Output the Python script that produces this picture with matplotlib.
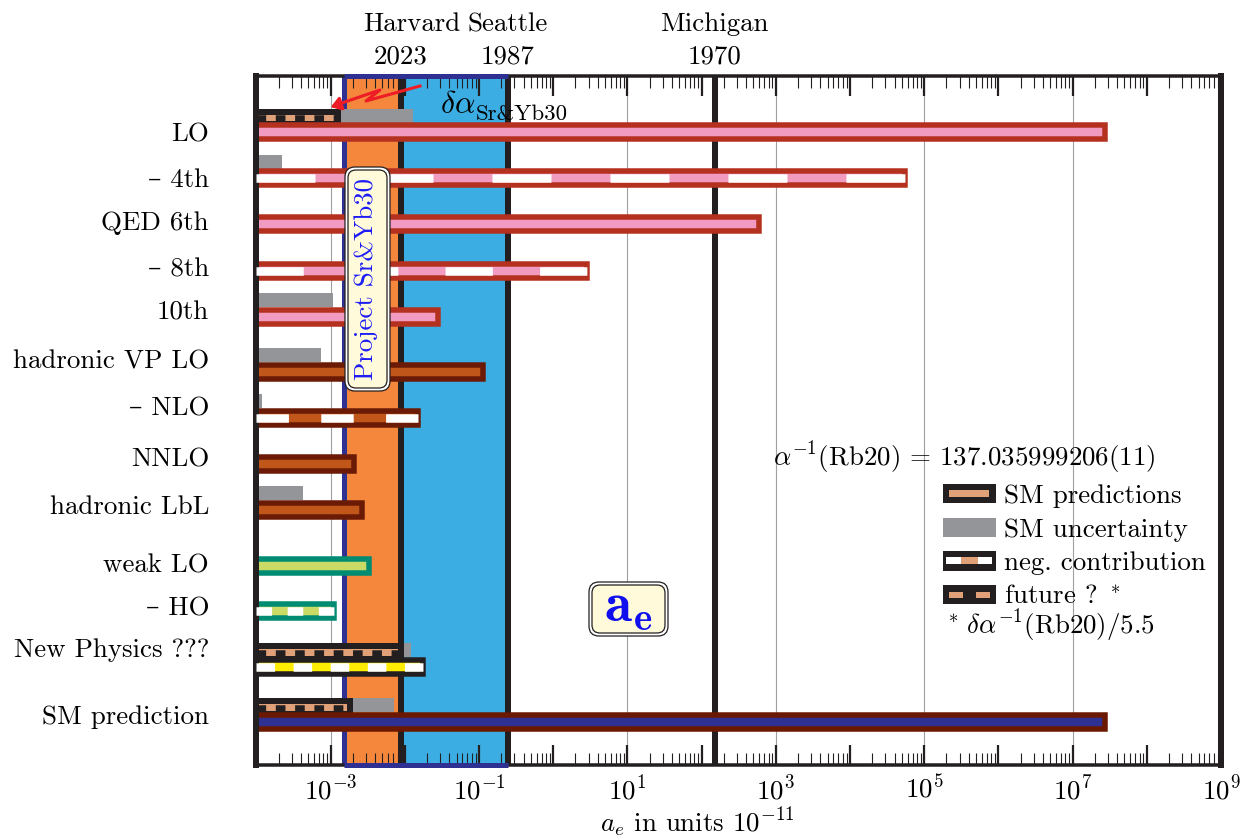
import numpy as np
import matplotlib
matplotlib.use('Agg')
import matplotlib.pyplot as plt
from matplotlib.patches import Rectangle, FancyBboxPatch
from matplotlib.legend_handler import HandlerBase
from matplotlib.ticker import LogLocator, FuncFormatter, NullFormatter
from matplotlib.transforms import Affine2D, blended_transform_factory

plt.rcParams['font.family'] = ['cmr10', 'DejaVu Serif']
plt.rcParams['mathtext.fontset'] = 'cm'
plt.rcParams['axes.formatter.use_mathtext'] = True
plt.rcParams['lines.scale_dashes'] = False

# ---------------- data (a_e contributions in units of 1e-11) ----------------
row_labels = ['LO', '\u2013 4th', 'QED 6th', '\u2013 8th', '10th',
              'hadronic VP LO', '\u2013 NLO', 'NNLO', 'hadronic LbL',
              'weak LO', '\u2013 HO', 'New Physics ???', 'SM prediction']
contribution = [2.76e7, 5.57e4, 600.0, 2.88, 0.0283,
                0.1146, 0.01525, 0.00209, 0.00268,
                0.0033, 0.001123, 0.0178, 2.76e7]
is_negative = [False, True, False, True, False,
               False, True, False, False,
               False, True, True, False]
row_group = ['qed', 'qed', 'qed', 'qed', 'qed',
             'had', 'had', 'had', 'had',
             'weak', 'weak', 'np', 'sm']
sm_uncertainty = [0.01294, 2.22e-4, np.nan, np.nan, 1.08e-3,
                  7.45e-4, 1.19e-4, np.nan, 4.26e-4,
                  np.nan, np.nan, 0.01217, 0.00718]
future_uncertainty = [0.00126, np.nan, np.nan, np.nan, np.nan,
                      np.nan, np.nan, np.nan, np.nan,
                      np.nan, np.nan, 0.00891, 0.00183]

exp_names = ['Harvard', 'Seattle', 'Michigan']
exp_years = ['2023', '1987', '1970']
exp_uncertainty = [0.0089, 0.247, 150.0]
delta_alpha_future = 0.0015

label_decades = [-3, -1, 1, 3, 5, 7, 9]
grid_decades = [-3, -1, 1, 3, 5, 7]

alpha_text = r'$\alpha^{-1}$(Rb20) = 137.035999206(11)'
footnote_text = r'$^*\,\delta\alpha^{-1}$(Rb20)/5.5'
legend_labels = ['SM predictions', 'SM uncertainty', 'neg. contribution', r'future ? $^*$']

# ---------------- layout / style ----------------
W, H, DPI = 1245, 838, 100
px2pt = 72.0 / DPI
FS = 19.4
bar_y = [132.5, 178.5, 224.5, 271, 317, 372, 418, 464, 510, 566, 611, 667, 722]
label_y = [132, 178, 221, 267, 310, 359, 406, 457, 505, 563, 606, 648, 715]
dash_segments = [0, 11, 0, 7, 0, 0, 5, 0, 0, 0, 5, 9, 0]

BLACK = '#231f20'
GRAY = '#939598'
SALMON = '#e0a078'
NAVY = '#2e3192'
group_colors = {'qed': ('#b5311f', '#f29bc1'),
                'had': ('#6b1b05', '#c1561b'),
                'weak': ('#008c72', '#c9da65'),
                'np': (BLACK, '#ffec00'),
                'sm': ('#6b1800', NAVY)}

fig = plt.figure(figsize=(W / DPI, H / DPI), dpi=DPI)
x_left_px, x_right_px, y_top_px, y_bot_px = 256.3, 1220.9, 76, 765
ax = fig.add_axes([x_left_px / W, 1 - y_bot_px / H,
                   (x_right_px - x_left_px) / W, (y_bot_px - y_top_px) / H])
ax.set_xscale('log')
xmin, xmax = 1e-4, 1e9
ax.set_xlim(xmin, xmax)
ax.set_ylim(y_bot_px, y_top_px)

px_tr = Affine2D().scale(1.0 / DPI, -1.0 / DPI).translate(0, H / DPI) + fig.dpi_scale_trans
xdata_yaxes = blended_transform_factory(ax.transData, ax.transAxes)

# grid lines at labelled decades
for e in grid_decades:
    ax.axvline(10.0 ** e, color='#a0a0a0', lw=0.8, zorder=0.2)

# measurement bands
ax.axvspan(delta_alpha_future, exp_uncertainty[0], color='#f4873c', lw=0, zorder=0.5)
ax.axvspan(exp_uncertainty[0], exp_uncertainty[1], color='#3cade3', lw=0, zorder=0.5)
ax.axvline(delta_alpha_future, color=NAVY, lw=5 * px2pt, zorder=1.1)
for yy in (0, 1):
    ax.plot([delta_alpha_future, exp_uncertainty[1]], [yy, yy], color=NAVY,
            lw=5 * px2pt, transform=xdata_yaxes, clip_on=False, zorder=2.6,
            solid_capstyle='butt')
for v in exp_uncertainty:
    ax.axvline(v, color=BLACK, lw=6 * px2pt, zorder=1.2)


def px_len(a, b):
    return ax.transData.transform((b, 0))[0] - ax.transData.transform((a, 0))[0]


n = len(row_labels)
for i in range(n):
    outer, inner = group_colors[row_group[i]]
    y = bar_y[i]
    if not np.isnan(sm_uncertainty[i]):
        ax.barh(y - 16.75, sm_uncertainty[i] - xmin, left=xmin, height=14,
                color=GRAY, lw=0, zorder=1.6)
    if not np.isnan(future_uncertainty[i]):
        fy = y - 14.5
        ax.barh(fy, future_uncertainty[i] - xmin, left=xmin, height=12.5,
                color=SALMON, edgecolor=BLACK, lw=6 * px2pt, zorder=1.7)
        d = 9.65 * px2pt
        ax.plot([xmin, future_uncertainty[i]], [fy, fy], color=BLACK,
                lw=6.5 * px2pt, dashes=(d, d), dash_capstyle='butt', zorder=1.75)
    ax.barh(y, contribution[i] - xmin, left=xmin, height=14, color=inner,
            edgecolor=outer, lw=5.5 * px2pt, zorder=1.8)
    if is_negative[i]:
        L = px_len(xmin, contribution[i])
        d = L / dash_segments[i] * px2pt
        ax.plot([xmin, contribution[i]], [y, y], color='white', lw=8.5 * px2pt,
                dashes=(d, d), dash_capstyle='butt', zorder=2.55)

# axes styling
for side in ('left', 'right'):
    ax.spines[side].set_linewidth(6 * px2pt)
for side in ('top', 'bottom'):
    ax.spines[side].set_linewidth(3.5 * px2pt)
for s in ax.spines.values():
    s.set_color(BLACK)

ax.xaxis.set_major_locator(LogLocator(base=10, numticks=40))
ax.xaxis.set_minor_locator(LogLocator(base=10, subs=np.arange(2, 10), numticks=200))


def fmt(v, pos):
    e = int(round(np.log10(v)))
    return r'$10^{%d}$' % e if e in label_decades else ''


ax.xaxis.set_major_formatter(FuncFormatter(fmt))
ax.xaxis.set_minor_formatter(NullFormatter())
ax.tick_params(axis='x', which='both', direction='in', top=True, bottom=True,
               color=BLACK, labelsize=FS, pad=7)
ax.tick_params(axis='x', which='major', length=20 * px2pt, width=1.6)
ax.tick_params(axis='x', which='minor', length=12 * px2pt, width=0.8)

ax.set_yticks(label_y)
ax.set_yticklabels(row_labels)
ax.tick_params(axis='y', length=0, pad=34, labelsize=FS)

ax.set_xlabel(r'$a_e$ in units $10^{-11}$', fontsize=FS)
ax.xaxis.set_label_coords((697 - x_left_px) / (x_right_px - x_left_px),
                          -(806 - y_bot_px) / (y_bot_px - y_top_px))

# experiment labels above the frame
offsets = [11, 0, 0]
for name, yr, v, dx in zip(exp_names, exp_years, exp_uncertainty, offsets):
    ax.annotate(name, xy=(v, 1), xycoords=xdata_yaxes, xytext=(dx * px2pt, 45 * px2pt),
                textcoords='offset points', ha='center', va='baseline', fontsize=FS,
                annotation_clip=False)
    ax.annotate(yr, xy=(v, 1), xycoords=xdata_yaxes, xytext=(0, 13 * px2pt),
                textcoords='offset points', ha='center', va='baseline', fontsize=FS,
                annotation_clip=False)

# delta alpha label and red lightning arrow
fig.text(440, 113, r'$\delta\alpha$', transform=px_tr,
         fontsize=23, ha='left', va='baseline', zorder=7)
fig.text(476, 120, 'Sr&Yb30', transform=px_tr,
         fontsize=16.5, ha='left', va='baseline', zorder=7)
zig = [(420, 86), (366, 101), (380, 90), (336, 105)]
fig.add_artist(plt.Line2D([p[0] for p in zig], [p[1] for p in zig], color='#ee1c25',
                          lw=2.2, transform=px_tr, zorder=8))
fig.add_artist(matplotlib.patches.FancyArrowPatch((340, 104), (328, 108), transform=px_tr,
                                                  arrowstyle='-|>,head_length=6,head_width=4',
                                                  color='#ee1c25', lw=2.2, zorder=8))

# boxed annotations


def double_box(x0, y0, w, h, r):
    fig.add_artist(FancyBboxPatch((x0, y0), w, h, boxstyle='round,pad=0,rounding_size=%g' % r,
                                  fc='white', ec=BLACK, lw=0.9, transform=px_tr, zorder=6))
    fig.add_artist(FancyBboxPatch((x0 + 3, y0 + 3), w - 6, h - 6,
                                  boxstyle='round,pad=0,rounding_size=%g' % (r - 2),
                                  fc='#fffbda', ec=BLACK, lw=0.9, transform=px_tr, zorder=6.1))


double_box(345, 167, 45, 224, 10)
fig.text(366, 279, 'Project Sr&Yb30', transform=px_tr, rotation=90, ha='center',
         va='center', fontsize=FS, color='#1c1cf5', zorder=7)
double_box(589, 582, 79, 54, 10)
fig.text(628, 608, r'$\mathbf{a}_{\mathbf{e}}$', transform=px_tr, ha='center',
         va='center', fontsize=40, color='#1010ee', zorder=7)

# value of alpha and legend
ax.text((964 - x_left_px) / (x_right_px - x_left_px), (y_bot_px - 458) / (y_bot_px - y_top_px),
        alpha_text, transform=ax.transAxes, ha='center', va='center', fontsize=FS, zorder=7)


class LayerHandler(HandlerBase):
    def __init__(self, layers):
        super().__init__()
        self.layers = layers

    def create_artists(self, legend, orig_handle, xdescent, ydescent, width, height,
                       fontsize, trans):
        arts = []
        for fx0, fx1, fy0, fy1, c in self.layers:
            arts.append(Rectangle((-xdescent + fx0 * width, -ydescent + fy0 * height),
                                  (fx1 - fx0) * width, (fy1 - fy0) * height,
                                  facecolor=c, edgecolor='none', transform=trans))
        return arts


h_pred, h_unc, h_neg, h_fut = [Rectangle((0, 0), 1, 1) for _ in range(4)]
handler_map = {
    h_pred: LayerHandler([(0, 1, 0, 1, BLACK), (0.12, 0.88, 0.33, 0.67, SALMON)]),
    h_unc: LayerHandler([(0, 1, 0, 1, GRAY)]),
    h_neg: LayerHandler([(0, 1, 0, 1, BLACK), (0.065, 0.925, 0.35, 0.70, 'white'),
                         (0.35, 0.66, 0.35, 0.70, SALMON)]),
    h_fut: LayerHandler([(0, 1, 0, 1, BLACK), (0.115, 0.89, 0.35, 0.65, SALMON),
                         (0.38, 0.62, 0.35, 0.65, BLACK)]),
}
leg = ax.legend([h_pred, h_unc, h_neg, h_fut], legend_labels, handler_map=handler_map,
                loc='upper left', bbox_to_anchor=(943 / W, 1 - 484 / H),
                bbox_transform=fig.transFigure, frameon=False, fontsize=FS,
                borderpad=0, borderaxespad=0, handlelength=1.96, handleheight=0.72,
                handletextpad=0.3, labelspacing=0.36)
leg.set_zorder(7)
fig.text(944, 626, footnote_text, transform=px_tr, ha='left', va='center', fontsize=FS,
         zorder=7)

fig.savefig('out.png', dpi=DPI)
